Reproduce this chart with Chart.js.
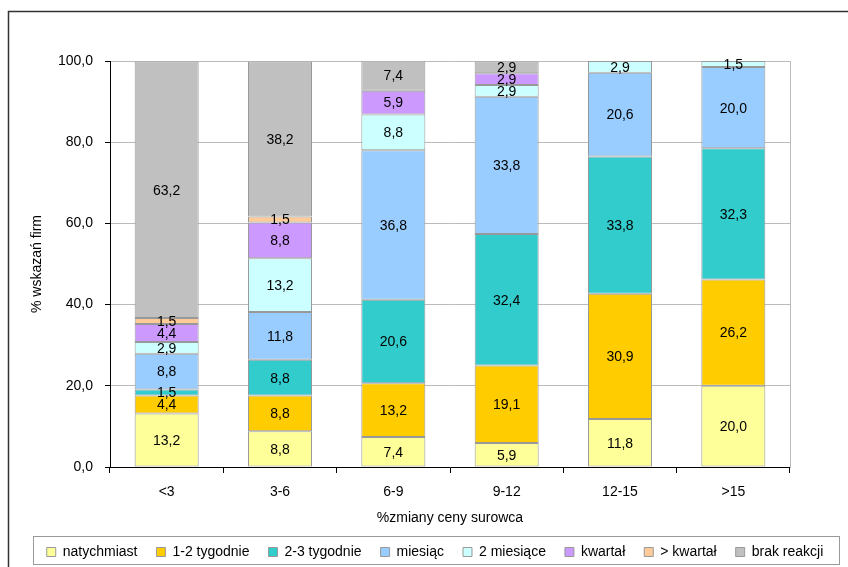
<!DOCTYPE html>
<html>
<head>
<meta charset="utf-8">
<script src="https://cdn.jsdelivr.net/npm/chart.js@4/dist/chart.umd.min.js"></script>
<style>
  html, body { margin: 0; padding: 0; background: #ffffff; }
  #wrap { width: 848px; height: 567px; }
</style>
</head>
<body>
<div id="wrap"><canvas id="myChart" width="848" height="567"></canvas></div>
<script>
// Przedziały zmiany ceny surowca
const categories = ['<3', '3-6', '6-9', '9-12', '12-15', '>15'];

// Odsetek wskazań firm dla każdego czasu reakcji
const natychmiast = [13.2, 8.8, 7.4, 5.9, 11.8, 20.0];
const tyg12 = [4.4, 8.8, 13.2, 19.1, 30.9, 26.2];
const tyg23 = [1.5, 8.8, 20.6, 32.4, 33.8, 32.3];
const miesiac = [8.8, 11.8, 36.8, 33.8, 20.6, 20.0];
const miesiace2 = [2.9, 13.2, 8.8, 2.9, 2.9, 1.5];
const kwartal = [4.4, 8.8, 5.9, 2.9, 0, 0];
const ponadKwartal = [1.5, 1.5, 0, 0, 0, 0];
const brakReakcji = [63.2, 38.2, 7.4, 2.9, 0, 0];

const yTicks = [0, 20, 40, 60, 80, 100];

const fontFamily = '"Liberation Sans", Arial, sans-serif';
const fmt = (v) => v.toFixed(1).replace('.', ',');

function serie(label, data, color) {
    return {
        label: label,
        data: data,
        yAxisID: 'y',
        backgroundColor: color,
        borderColor: '#999999',
        borderWidth: 1,
        borderSkipped: false,
        categoryPercentage: 1.0,
        barPercentage: 0.565
    };
}

// Etykiety wartości na środku każdego segmentu
const valueLabels = {
    id: 'valueLabels',
    afterDatasetsDraw(chart) {
        const ctx = chart.ctx;
        ctx.save();
        ctx.font = '14px ' + fontFamily;
        ctx.fillStyle = '#000000';
        ctx.textAlign = 'center';
        ctx.textBaseline = 'middle';
        chart.data.datasets.forEach((ds, i) => {
            const meta = chart.getDatasetMeta(i);
            meta.data.forEach((bar, j) => {
                const v = ds.data[j];
                if (!v) return;
                const yMid = (bar.y + bar.base) / 2;
                ctx.fillText(fmt(v), bar.x, yMid + 1);
            });
        });
        ctx.restore();
    }
};

// Ramka całego wykresu i ramka legendy
const frames = {
    id: 'frames',
    beforeDraw(chart) {
        const ctx = chart.ctx;
        ctx.save();
        ctx.fillStyle = '#ffffff';
        ctx.fillRect(0, 0, chart.width, chart.height);
        ctx.restore();
    },
    afterDraw(chart) {
        const ctx = chart.ctx;
        ctx.save();
        ctx.strokeStyle = '#333333';
        ctx.lineWidth = 1.5;
        ctx.strokeRect(8.5, 11.5, chart.width + 20, chart.height + 20);
        ctx.strokeStyle = '#999999';
        ctx.lineWidth = 1;
        ctx.strokeRect(33.5, 536.5, 806, 28);
        ctx.restore();
    }
};

const config = {
    type: 'bar',
    data: {
        labels: categories,
        datasets: [
            serie('natychmiast', natychmiast, '#FFFF99'),
            serie('1-2 tygodnie', tyg12, '#FFCC00'),
            serie('2-3 tygodnie', tyg23, '#33CCCC'),
            serie('miesiąc', miesiac, '#99CCFF'),
            serie('2 miesiące', miesiace2, '#CCFFFF'),
            serie('kwartał', kwartal, '#CC99FF'),
            serie('> kwartał', ponadKwartal, '#FFCC99'),
            serie('brak reakcji', brakReakcji, '#C0C0C0')
        ]
    },
    options: {
        responsive: false,
        animation: false,
        devicePixelRatio: 1,
        layout: {
            padding: { left: 22, right: 0, top: 61, bottom: -2 }
        },
        scales: {
            x: {
                stacked: true,
                grid: {
                    display: true,
                    drawOnChartArea: false,
                    drawTicks: true,
                    tickLength: 6,
                    tickColor: '#000000',
                    offset: true
                },
                border: { color: '#000000', width: 1 },
                ticks: {
                    color: '#000000',
                    padding: 11,
                    font: { family: fontFamily, size: 14 }
                },
                title: {
                    display: true,
                    text: '%zmiany ceny surowca',
                    color: '#000000',
                    padding: { top: 2, bottom: 1 },
                    font: { family: fontFamily, size: 14, lineHeight: 1.0 }
                },
                afterFit(scale) { scale.height = 59; }
            },
            y: {
                stacked: true,
                min: 0,
                max: 100,
                afterBuildTicks(scale) {
                    scale.ticks = yTicks.map(v => ({ value: v }));
                },
                grid: {
                    color: '#bbbbbb',
                    lineWidth: 1,
                    tickLength: 5,
                    tickColor: '#000000'
                },
                border: { color: '#000000', width: 1 },
                ticks: {
                    color: '#000000',
                    padding: 12,
                    font: { family: fontFamily, size: 14 },
                    callback: (v) => fmt(v)
                },
                title: {
                    display: true,
                    text: '% wskazań firm',
                    color: '#000000',
                    padding: { top: 7, bottom: 0 },
                    font: { family: fontFamily, size: 14 }
                },
                afterFit(scale) { scale.width = 88; }
            },
            // prawa krawędź obszaru wykresu
            y2: {
                position: 'right',
                min: 0,
                max: 100,
                grid: { display: false },
                border: { display: true, color: '#bbbbbb', width: 1 },
                ticks: { display: false },
                afterFit(scale) { scale.width = 58; }
            }
        },
        plugins: {
            legend: {
                display: true,
                position: 'bottom',
                labels: {
                    color: '#000000',
                    boxWidth: 9,
                    boxHeight: 9,
                    padding: 19,
                    font: { family: fontFamily, size: 14 }
                }
            },
            tooltip: { enabled: false }
        }
    },
    plugins: [valueLabels, frames]
};

const ctx = document.getElementById('myChart').getContext('2d');
new Chart(ctx, config);
</script>
</body>
</html>
